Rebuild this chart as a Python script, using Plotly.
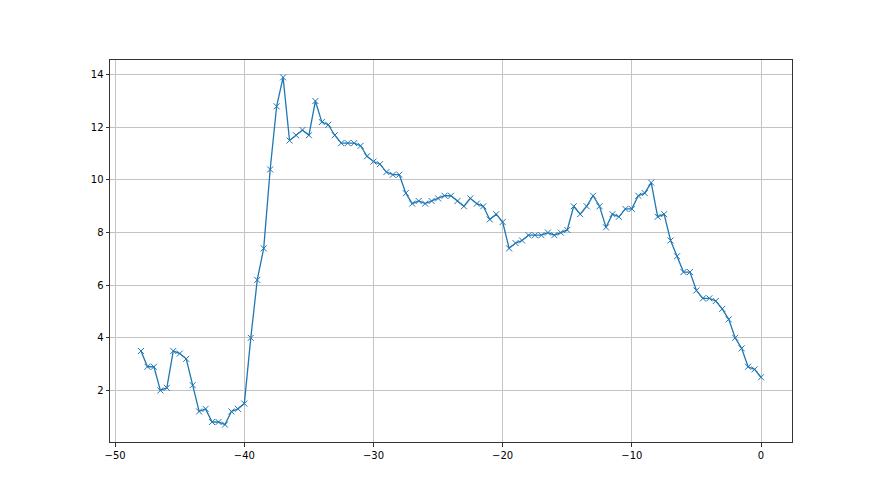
import plotly.graph_objects as go

# lag positions (0.5 steps) and the values
x_vals = [
    -48.0, -47.5, -47.0, -46.5, -46.0, -45.5, -45.0, -44.5, -44.0, -43.5,
    -43.0, -42.5, -42.0, -41.5, -41.0, -40.5, -40.0, -39.5, -39.0, -38.5,
    -38.0, -37.5, -37.0, -36.5, -36.0, -35.5, -35.0, -34.5, -34.0, -33.5,
    -33.0, -32.5, -32.0, -31.5, -31.0, -30.5, -30.0, -29.5, -29.0, -28.5,
    -28.0, -27.5, -27.0, -26.5, -26.0, -25.5, -25.0, -24.5, -24.0, -23.5,
    -23.0, -22.5, -22.0, -21.5, -21.0, -20.5, -20.0, -19.5, -19.0, -18.5,
    -18.0, -17.5, -17.0, -16.5, -16.0, -15.5, -15.0, -14.5, -14.0, -13.5,
    -13.0, -12.5, -12.0, -11.5, -11.0, -10.5, -10.0, -9.5, -9.0, -8.5,
    -8.0, -7.5, -7.0, -6.5, -6.0, -5.5, -5.0, -4.5, -4.0, -3.5,
    -3.0, -2.5, -2.0, -1.5, -1.0, -0.5, 0.0,
]
y_vals = [
    3.5, 2.9, 2.9, 2.0, 2.1, 3.5, 3.4, 3.2, 2.2, 1.2,
    1.3, 0.8, 0.8, 0.7, 1.2, 1.3, 1.5, 4.0, 6.2, 7.4,
    10.4, 12.8, 13.9, 11.5, 11.7, 11.9, 11.7, 13.0, 12.2, 12.1,
    11.7, 11.4, 11.4, 11.4, 11.3, 10.9, 10.7, 10.6, 10.3, 10.2,
    10.2, 9.5, 9.1, 9.2, 9.1, 9.2, 9.3, 9.4, 9.4, 9.2,
    9.0, 9.3, 9.1, 9.0, 8.5, 8.7, 8.4, 7.4, 7.6, 7.7,
    7.9, 7.9, 7.9, 8.0, 7.9, 8.0, 8.1, 9.0, 8.7, 9.0,
    9.4, 9.0, 8.2, 8.7, 8.6, 8.9, 8.9, 9.4, 9.5, 9.9,
    8.6, 8.7, 7.7, 7.1, 6.5, 6.5, 5.8, 5.5, 5.5, 5.4,
    5.1, 4.7, 4.0, 3.6, 2.9, 2.8, 2.5,
]
x_ticks = [-50, -40, -30, -20, -10, 0]
y_ticks = [2, 4, 6, 8, 10, 12, 14]

BLUE = "#1f77b4"

fig = go.Figure(go.Scatter(
    x=x_vals,
    y=y_vals,
    mode="lines+markers",
    line=dict(color=BLUE, width=1.3),
    marker=dict(symbol="x-thin", size=6, line=dict(color=BLUE, width=1)),
    showlegend=False,
))

axis_common = dict(
    showgrid=True,
    gridcolor="#c4c4c4",
    gridwidth=1,
    zeroline=False,
    showline=True,
    linecolor="#333333",
    linewidth=1,
    mirror=True,
    ticks="outside",
    ticklen=3.5,
    tickwidth=0.8,
    tickcolor="#333333",
    tickfont=dict(family="DejaVu Sans", size=10, color="black"),
)

fig.update_xaxes(range=[-50.4, 2.4], tickvals=x_ticks, **axis_common)
fig.update_yaxes(range=[0.04, 14.56], tickvals=y_ticks, **axis_common)

# page body adds ~8px offset, so margins are trimmed on the left/top
fig.update_layout(
    width=880,
    height=495,
    margin=dict(l=102, r=96, t=52, b=61),
    plot_bgcolor="white",
    paper_bgcolor="white",
    font=dict(family="DejaVu Sans", size=10, color="black"),
)

fig.write_html("out.html")
